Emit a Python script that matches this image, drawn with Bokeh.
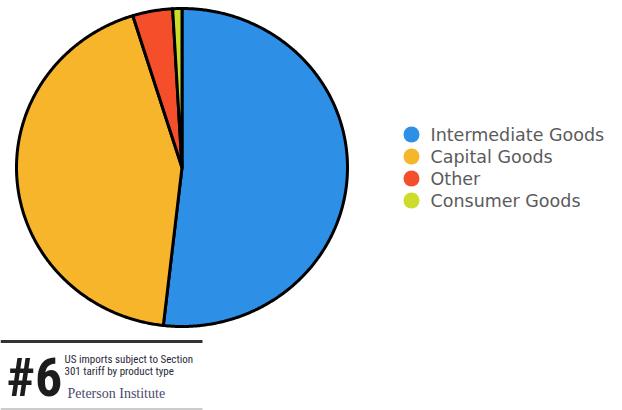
import numpy as np
from bokeh.plotting import figure
from bokeh.models import Range1d, ColumnDataSource
from bokeh.core.properties import value
from bokeh.embed import file_html
from bokeh.resources import INLINE

categories = ["Intermediate Goods", "Capital Goods", "Other", "Consumer Goods"]
shares = [51.8, 43.4, 3.9, 0.9]
colors = ["#2D8FE6", "#F7B52C", "#F44E2B", "#CDDC2A"]
caption_number = "#6"
caption_lines = ["US imports subject to Section", "301 tariff by product type"]
caption_source = "Peterson Institute"

W, H = 622, 410
p = figure(width=W, height=H, output_backend="svg", toolbar_location=None,
           x_range=Range1d(0, W), y_range=Range1d(H, 0), min_border=0)
p.axis.visible = False
p.grid.visible = False
p.outline_line_color = None
p.background_fill_color = "white"

# pie (slightly elliptical, as in reference)
cx, cy, rx, ry = 181.5, 167.0, 165.5, 159.0
frac = np.array(shares) / sum(shares)
ends = np.cumsum(frac) * 2 * np.pi
starts = ends - frac * 2 * np.pi
xs, ys = [], []
for a0, a1 in zip(starts, ends):
    t = np.linspace(a0, a1, max(int((a1 - a0) * 120), 4))
    xs.append([cx] + list(cx + rx * np.sin(t)) + [cx])
    ys.append([cy] + list(cy - ry * np.cos(t)) + [cy])
p.patches(xs=xs, ys=ys, fill_color=colors, line_color="black", line_width=3,
          line_join="round")

# legend
n = len(categories)
leg = ColumnDataSource(dict(x=[411] * n, y=[134 + 22 * i for i in range(n)],
                            tx=[430] * n, label=categories, color=colors))
p.scatter("x", "y", source=leg, size=16, fill_color="color", line_color=None)
p.text("tx", "y", text="label", source=leg, text_font=value("DejaVu Sans"),
       text_font_size="17.5px", text_color="#5b5b5b", text_baseline="middle")

# caption
narrow = "Roboto Condensed, Liberation Sans Narrow, Liberation Sans, sans-serif"
p.segment(x0=[0], y0=[341], x1=[202], y1=[341], line_color="#333333", line_width=3)
p.segment(x0=[0], y0=[408.5], x1=[202], y1=[408.5], line_color="#9a9a9a", line_width=1)
p.text(x=[6], y=[377], text=[caption_number],
       text_font=value(narrow),
       text_font_style="bold", text_font_size="54px", text_color="#1c1c1c",
       text_baseline="middle")
p.text(x=[64, 64], y=[358.5, 371], text=caption_lines,
       text_font=value(narrow),
       text_font_size="11px", text_color="#2a2a3a", text_baseline="middle")
p.text(x=[67], y=[392.5], text=[caption_source],
       text_font=value("Liberation Serif"), text_font_size="14px",
       text_color="#4a4a6e", text_baseline="middle")

open("out.html", "w").write(file_html(p, INLINE))
